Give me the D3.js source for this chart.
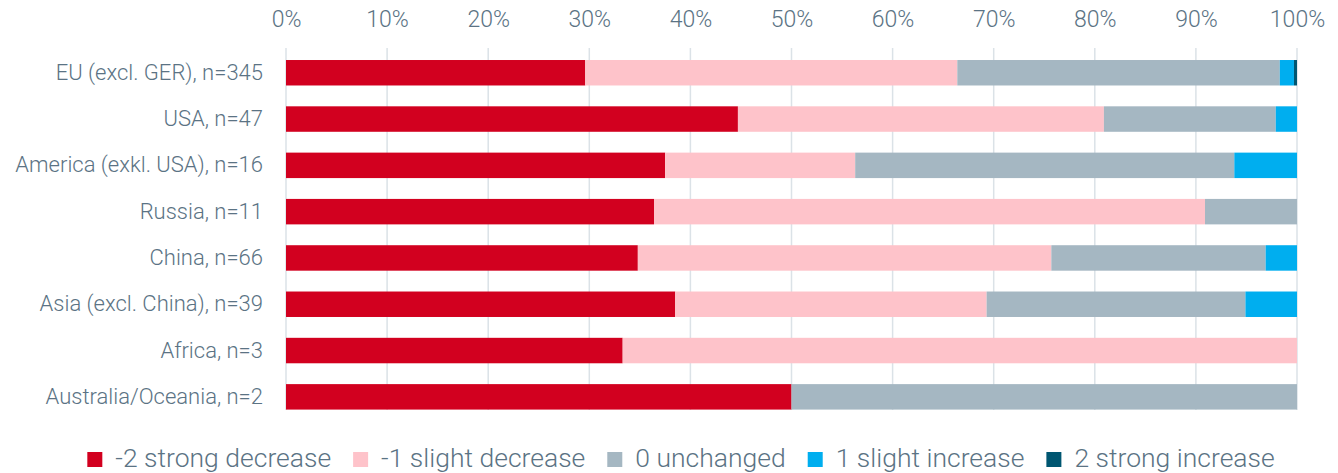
<!DOCTYPE html>
<html>
<head>
<meta charset="utf-8">
<script src="https://cdn.jsdelivr.net/npm/d3@7"></script>
<style>
  body { margin: 0; background: #fff; }
  svg text { font-family: "Roboto", "Noto Sans", sans-serif; font-weight: 300; fill: #5b7384; }
</style>
</head>
<body>
<div id="chart"></div>
<script>
var svgWidth = 1338;
var svgHeight = 473;

// data, in percent of answers per region
var categories = ["EU (excl. GER), n=345", "USA, n=47", "America (exkl. USA), n=16", "Russia, n=11",
    "China, n=66", "Asia (excl. China), n=39", "Africa, n=3", "Australia/Oceania, n=2"];
var strongDecrease = [29.6, 44.7, 37.5, 36.4, 34.8, 38.5, 33.3, 50.0];
var slightDecrease = [36.8, 36.2, 18.8, 54.5, 40.9, 30.8, 66.7, 0];
var unchanged = [31.9, 17.0, 37.5, 9.1, 21.2, 25.6, 0, 50.0];
var slightIncrease = [1.4, 2.1, 6.2, 0, 3.1, 5.1, 0, 0];
var strongIncrease = [0.3, 0, 0, 0, 0, 0, 0, 0];

var seriesNames = ["-2 strong decrease", "-1 slight decrease", "0 unchanged", "1 slight increase", "2 strong increase"];
var seriesColors = ["#d2001f", "#fec3ca", "#a5b7c2", "#00aeef", "#005671"];
var xTicks = [0, 10, 20, 30, 40, 50, 60, 70, 80, 90, 100];

var allSeries = [strongDecrease, slightDecrease, unchanged, slightIncrease, strongIncrease];
var rows = categories.map(function (c, i) {
    var r = { cat: c };
    seriesNames.forEach(function (s, k) { r[s] = allSeries[k][i]; });
    return r;
});

var svg = d3.select("#chart")
    .append("svg")
    .attr("width", svgWidth)
    .attr("height", svgHeight);

var x = d3.scaleLinear()
    .domain([0, 100])
    .range([286, 1297]);

var y = d3.scaleBand()
    .domain(categories)
    .range([49.6, 420])
    .paddingInner(0.45)
    .paddingOuter(0.225);

// grid lines
svg.append("g")
    .selectAll("line")
    .data(xTicks)
    .enter()
    .append("line")
    .attr("x1", d => x(d))
    .attr("x2", d => x(d))
    .attr("y1", 48)
    .attr("y2", 410)
    .attr("stroke", "#dbe2e7")
    .attr("stroke-width", 1.5);

// top axis
var topAxis = d3.axisTop(x)
    .tickValues(xTicks)
    .tickSize(0)
    .tickPadding(0)
    .tickFormat(d => d + "%");

var axisG = svg.append("g")
    .attr("transform", "translate(0, 27)")
    .call(topAxis);
axisG.select(".domain").remove();
axisG.selectAll("text")
    .attr("font-size", "23px")
    .attr("dy", 0);

// stacked bars
var stacked = d3.stack().keys(seriesNames)(rows);

svg.append("g")
    .selectAll("g")
    .data(stacked)
    .enter()
    .append("g")
    .attr("fill", (d, i) => seriesColors[i])
    .selectAll("rect")
    .data(d => d)
    .enter()
    .append("rect")
    .attr("x", d => x(d[0]))
    .attr("y", d => y(d.data.cat))
    .attr("width", d => x(d[1]) - x(d[0]))
    .attr("height", y.bandwidth());

// category labels
var leftAxis = d3.axisLeft(y).tickSize(0).tickPadding(0);
var leftG = svg.append("g")
    .attr("transform", "translate(263, 0)")
    .call(leftAxis);
leftG.select(".domain").remove();
leftG.selectAll("text")
    .attr("font-size", "22px");

// legend
var legend = svg.append("g");
var items = legend.selectAll("g")
    .data(seriesNames)
    .enter()
    .append("g");
items.append("rect")
    .attr("width", 15)
    .attr("height", 15)
    .attr("y", 452)
    .attr("fill", (d, i) => seriesColors[i]);
items.append("text")
    .attr("x", 28)
    .attr("y", 467)
    .attr("font-size", "26.5px")
    .text(d => d);

var pos = 0;
items.each(function () {
    var g = d3.select(this);
    g.attr("transform", "translate(" + pos + ",0)");
    pos += 28 + g.select("text").node().getComputedTextLength() + 22;
});
var total = pos - 22;
legend.attr("transform", "translate(" + (681 - total / 2) + ",0)");
</script>
</body>
</html>
